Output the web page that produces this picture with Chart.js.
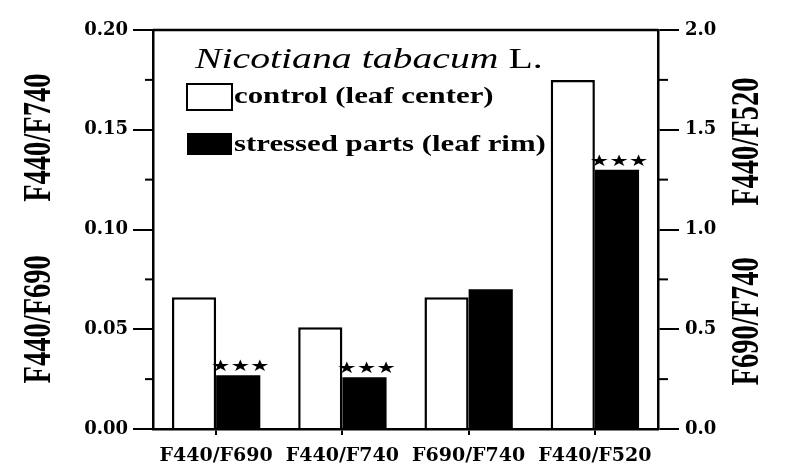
<!DOCTYPE html>
<html lang="en">
<head>
<meta charset="UTF-8">
<title>Nicotiana tabacum fluorescence ratios</title>
<script src="https://cdn.jsdelivr.net/npm/chart.js@4"></script>
<style>
  body { margin: 0; background: #fff; }
  #wrap { width: 786px; height: 476px; }
</style>
</head>
<body>
<div id="wrap"><canvas id="ratioChart"></canvas></div>
<script>
const categories = ['F440/F690', 'F440/F740', 'F690/F740', 'F440/F520'];
// first two ratios are read on the left axis, last two on the right one
const controlLeft = [0.066, 0.051, null, null];
const stressedLeft = [0.027, 0.026, null, null];
const controlRight = [null, null, 0.66, 1.75];
const stressedRight = [null, null, 0.70, 1.30];
const significance = ['***', '***', '', '***'];
const leftTicks = [0, 0.05, 0.10, 0.15, 0.20];
const rightTicks = [0, 0.5, 1.0, 1.5, 2.0];
const leftTitles = ['F440/F740', 'F440/F690'];
const rightTitles = ['F440/F520', 'F690/F740'];
const seriesNames = ['control (leaf center)', 'stressed parts (leaf rim)'];
const speciesName = 'Nicotiana tabacum';

const STRETCH = 1.37; // the scanned figure is wider than it is tall
const tickFont = { family: 'DejaVu Serif', weight: 'bold', size: 18 };

// draws text widened horizontally, optionally turned upright
function wideText(ctx, text, x, y, font, align, upright) {
    ctx.save();
    ctx.translate(x, y);
    ctx.scale(STRETCH, 1);
    if (upright) ctx.rotate(-Math.PI / 2);
    ctx.font = font;
    ctx.fillStyle = '#000';
    ctx.textAlign = align;
    ctx.textBaseline = 'middle';
    ctx.fillText(text, 0, 0);
    ctx.restore();
}

const decorations = {
    id: 'decorations',
    afterDatasetsDraw(chart) {
        const ctx = chart.ctx;
        // stars over the stressed bars
        [1, 3].forEach(di => {
            const meta = chart.getDatasetMeta(di);
            meta.data.forEach((bar, i) => {
                const v = chart.data.datasets[di].data[i];
                if (v === null || !significance[i]) return;
                const stars = significance[i].replace(/\*/g, '\u2605');
                wideText(ctx, stars, bar.x + 2, bar.y - 8, '16px "DejaVu Sans"', 'center', false);
            });
        });
    },
    afterDraw(chart) {
        const ctx = chart.ctx;
        const area = chart.chartArea;
        const yl = chart.scales.y, yr = chart.scales.y2;
        ctx.save();
        ctx.strokeStyle = '#000';
        ctx.lineWidth = 2.5;
        // top frame line
        ctx.beginPath();
        ctx.moveTo(area.left, area.top);
        ctx.lineTo(area.right, area.top);
        ctx.stroke();
        // minor ticks halfway between labelled ones
        ctx.lineWidth = 2;
        for (let i = 0; i < leftTicks.length - 1; i++) {
            const py = yl.getPixelForValue((leftTicks[i] + leftTicks[i + 1]) / 2);
            ctx.beginPath(); ctx.moveTo(area.left - 8, py); ctx.lineTo(area.left, py); ctx.stroke();
        }
        for (let i = 0; i < rightTicks.length - 1; i++) {
            const py = yr.getPixelForValue((rightTicks[i] + rightTicks[i + 1]) / 2);
            ctx.beginPath(); ctx.moveTo(area.right, py); ctx.lineTo(area.right + 10, py); ctx.stroke();
        }
        ctx.restore();

        // axis titles, two per side
        const titleFont = 'bold 28.5px "Liberation Serif"';
        wideText(ctx, leftTitles[0], area.left - 113, yl.getPixelForValue(0.146), titleFont, 'center', true);
        wideText(ctx, leftTitles[1], area.left - 113, yl.getPixelForValue(0.055), titleFont, 'center', true);
        wideText(ctx, rightTitles[0], area.right + 90, yr.getPixelForValue(1.44), titleFont, 'center', true);
        wideText(ctx, rightTitles[1], area.right + 90, yr.getPixelForValue(0.54), titleFont, 'center', true);

        // species name + legend inside the plot
        const lx = area.left + 34;
        ctx.save();
        ctx.translate(area.left + 42, area.top + 30);
        ctx.scale(STRETCH, 1);
        ctx.font = 'italic 29px "Liberation Serif"';
        ctx.textBaseline = 'middle';
        ctx.fillStyle = '#000';
        ctx.fillText(speciesName, 0, 0);
        const w = ctx.measureText(speciesName + ' ').width;
        ctx.font = '29px "Liberation Serif"';
        ctx.fillText('L.', w, 0);
        ctx.restore();

        ctx.save();
        ctx.lineWidth = 2;
        ctx.strokeStyle = '#000';
        ctx.fillStyle = '#fff';
        ctx.fillRect(lx, area.top + 54, 45, 26);
        ctx.strokeRect(lx, area.top + 54, 45, 26);
        ctx.fillStyle = '#000';
        ctx.fillRect(lx, area.top + 103, 45, 22);
        ctx.restore();
        const legFont = 'bold 22.5px "Liberation Serif"';
        wideText(ctx, seriesNames[0], lx + 47, area.top + 67, legFont, 'left', false);
        wideText(ctx, seriesNames[1], lx + 47, area.top + 115, legFont, 'left', false);
    }
};

const barStyle = { categoryPercentage: 0.7, barPercentage: 1.0, skipNull: true };
const controlStyle = { backgroundColor: '#fff', borderColor: '#000', borderWidth: 2.5 };
const stressedStyle = { backgroundColor: '#000', borderColor: '#000', borderWidth: 0 };

new Chart(document.getElementById('ratioChart'), {
    type: 'bar',
    data: {
        labels: categories,
        datasets: [
            { label: seriesNames[0], data: controlLeft, yAxisID: 'y', ...barStyle, ...controlStyle },
            { label: seriesNames[1], data: stressedLeft, yAxisID: 'y', ...barStyle, ...stressedStyle },
            { label: seriesNames[0], data: controlRight, yAxisID: 'y2', ...barStyle, ...controlStyle },
            { label: seriesNames[1], data: stressedRight, yAxisID: 'y2', ...barStyle, ...stressedStyle }
        ]
    },
    options: {
        responsive: true,
        maintainAspectRatio: false,
        animation: false,
        layout: { padding: { top: 30, left: 0, right: 0, bottom: 0 } },
        plugins: { legend: { display: false }, tooltip: { enabled: false } },
        scales: {
            x: {
                grid: { offset: false, drawOnChartArea: false, tickLength: 6, color: '#000', lineWidth: 2 },
                border: { color: '#000', width: 2.5 },
                ticks: { color: '#000', font: { ...tickFont, size: 19 }, padding: 10, maxRotation: 0, autoSkip: false },
                afterFit: s => { s.height = 47; }
            },
            y: {
                position: 'left',
                min: 0, max: 0.2,
                afterBuildTicks: s => { s.ticks = leftTicks.map(v => ({ value: v })); },
                grid: { drawOnChartArea: false, tickLength: 20, color: '#000', lineWidth: 2 },
                border: { color: '#000', width: 2.5 },
                ticks: { color: '#000', font: tickFont, padding: 5, callback: v => Number(v).toFixed(2) },
                afterFit: s => { s.width = 153; }
            },
            y2: {
                position: 'right',
                min: 0, max: 2.0,
                afterBuildTicks: s => { s.ticks = rightTicks.map(v => ({ value: v })); },
                grid: { drawOnChartArea: false, tickLength: 21, color: '#000', lineWidth: 2 },
                border: { color: '#000', width: 2.5 },
                ticks: { color: '#000', font: tickFont, padding: 6, callback: v => Number(v).toFixed(1) },
                afterFit: s => { s.width = 128; }
            }
        }
    },
    plugins: [decorations]
});
</script>
</body>
</html>
